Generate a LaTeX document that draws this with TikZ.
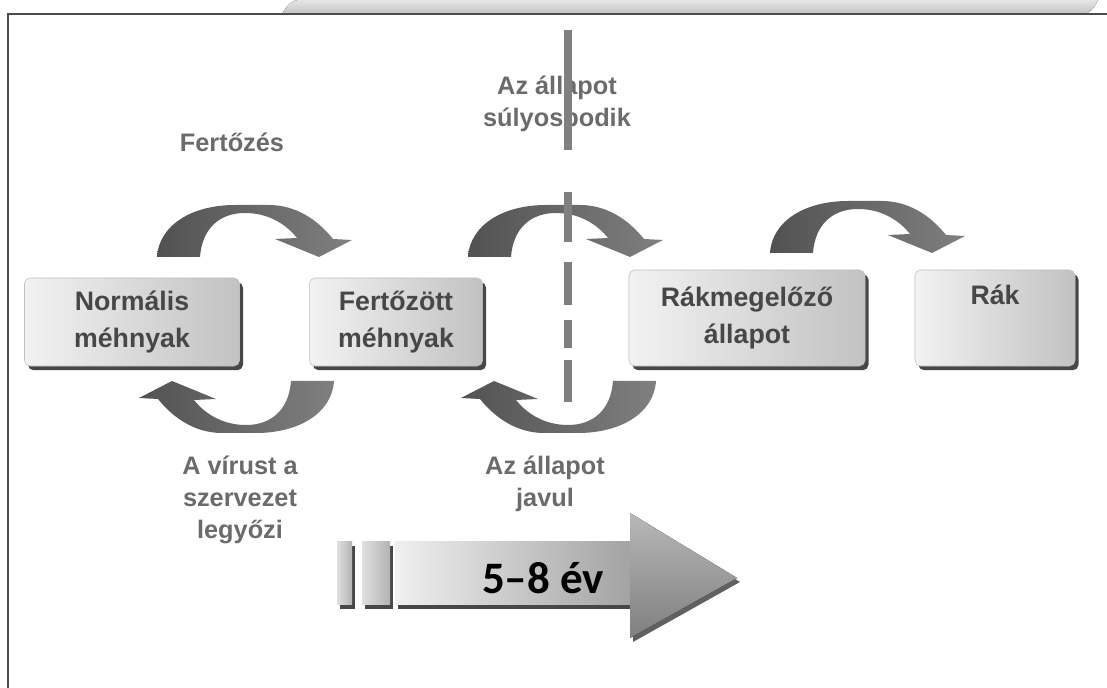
\documentclass[tikz,border=0pt]{standalone}
\usepackage{fontspec}
\setmainfont{Liberation Sans}
\newfontfamily\yearfont{Carlito}
\usetikzlibrary{shadows}

\begin{document}
\begin{tikzpicture}[x=0.025cm, y=-0.025cm,
    statebox/.style={rounded corners=4pt, draw=black!25, left color=black!5, right color=black!24,
      text=boxtext, font=\bfseries\fontsize{19}{26}\selectfont, align=center, inner sep=0pt,
      general shadow={fill=black!72, shadow xshift=2.5pt, shadow yshift=-3pt}},
    notelabel/.style={text=labeltext, font=\bfseries\fontsize{18}{23}\selectfont, align=center},
    bendarrow/.pic={
      \path[left color=arrowdark, right color=arrowlight]
        (0,0) .. controls (2,-32) and (35,-52) .. (78,-52) -- (112,-52)
        .. controls (138,-52) and (160,-38) .. (176,-18) -- (195,-17) -- (162,0) -- (118,-18) -- (140,-19)
        .. controls (128,-34) and (110,-44) .. (88,-44)
        .. controls (62,-44) and (45,-28) .. (43,0) -- cycle;
    }]
  % -------- parameters --------
  \colorlet{frameline}{black!70}
  \colorlet{boxtext}{black!72}
  \colorlet{labeltext}{black!58}
  \colorlet{arrowdark}{black!68}
  \colorlet{arrowlight}{black!50}
  \colorlet{splitline}{black!50}
  \useasboundingbox (0,0) rectangle (1107,688);

  % ======== frame ========
  \fill[top color=black!10, bottom color=black!24]
    (282,14) .. controls (288,4) and (292,0) .. (300,0) -- (1098,0) .. controls (1094,8) and (1090,14) .. (1082,14) -- cycle;
  \draw[frameline, line width=1.2pt] (1107,14) -- (8,14) -- (8,688);

  % ======== states ========
  \node[statebox, minimum width=5.375cm, minimum height=2.2cm] (normal) at (132,322) {Normális\\méhnyak};
  \node[statebox, minimum width=4.33cm, minimum height=2.2cm] (infected) at (396,322) {Fertőzött\\méhnyak};
  \node[statebox, minimum width=5.9cm, minimum height=2.4cm] (precancer) at (747,318) {Rákmegelőző\\állapot};
  \node[statebox, minimum width=4cm, minimum height=2.4cm] (cancer) at (995,318) {Rák\\\strut};

  % ======== curved arrows ========
  \pic at (157,257) {bendarrow};
  \pic at (468,257) {bendarrow};
  \pic at (770,253) {bendarrow};
  \pic[rotate=180] at (334,381) {bendarrow};
  \pic[rotate=180] at (656,381) {bendarrow};

  % ======== labels ========
  \node[notelabel] (infection) at (232,142) {Fertőzés};
  \node[notelabel] (worse) at (557,104) {Az állapot\\súlyosbodik};
  \node[notelabel] (cleared) at (240,500) {A vírust a\\szervezet\\legyőzi};
  \node[notelabel] (better) at (545,484) {Az állapot\\javul};

  % split line
  \foreach \ya/\yb in {30/150, 192/242, 262/305, 320/348, 360/402}
    \draw[splitline, line width=6pt] (568,\ya) -- (568,\yb);

  % ======== time arrow ========
  \foreach \xa/\xb in {337/352, 362/390} {
    \fill[black!72] (\xa+3,546) rectangle (\xb+3,609);
    \fill[left color=black!12, right color=black!30] (\xa,542) rectangle (\xb,605);
  }
  \fill[black!72] (398,546) rectangle (633,609);
  \fill[black!62] (633,517) -- (740,582) -- (633,642) -- cycle;
  \fill[left color=black!6, right color=black!36] (395,542) rectangle (630,605);
  \fill[top color=black!28, bottom color=black!50] (630,513) -- (737,578) -- (630,638) -- cycle;
  \node[font=\yearfont\bfseries\fontsize{32}{34}\selectfont] (years) at (543,578) {5–8 év};

\end{tikzpicture}
\end{document}
